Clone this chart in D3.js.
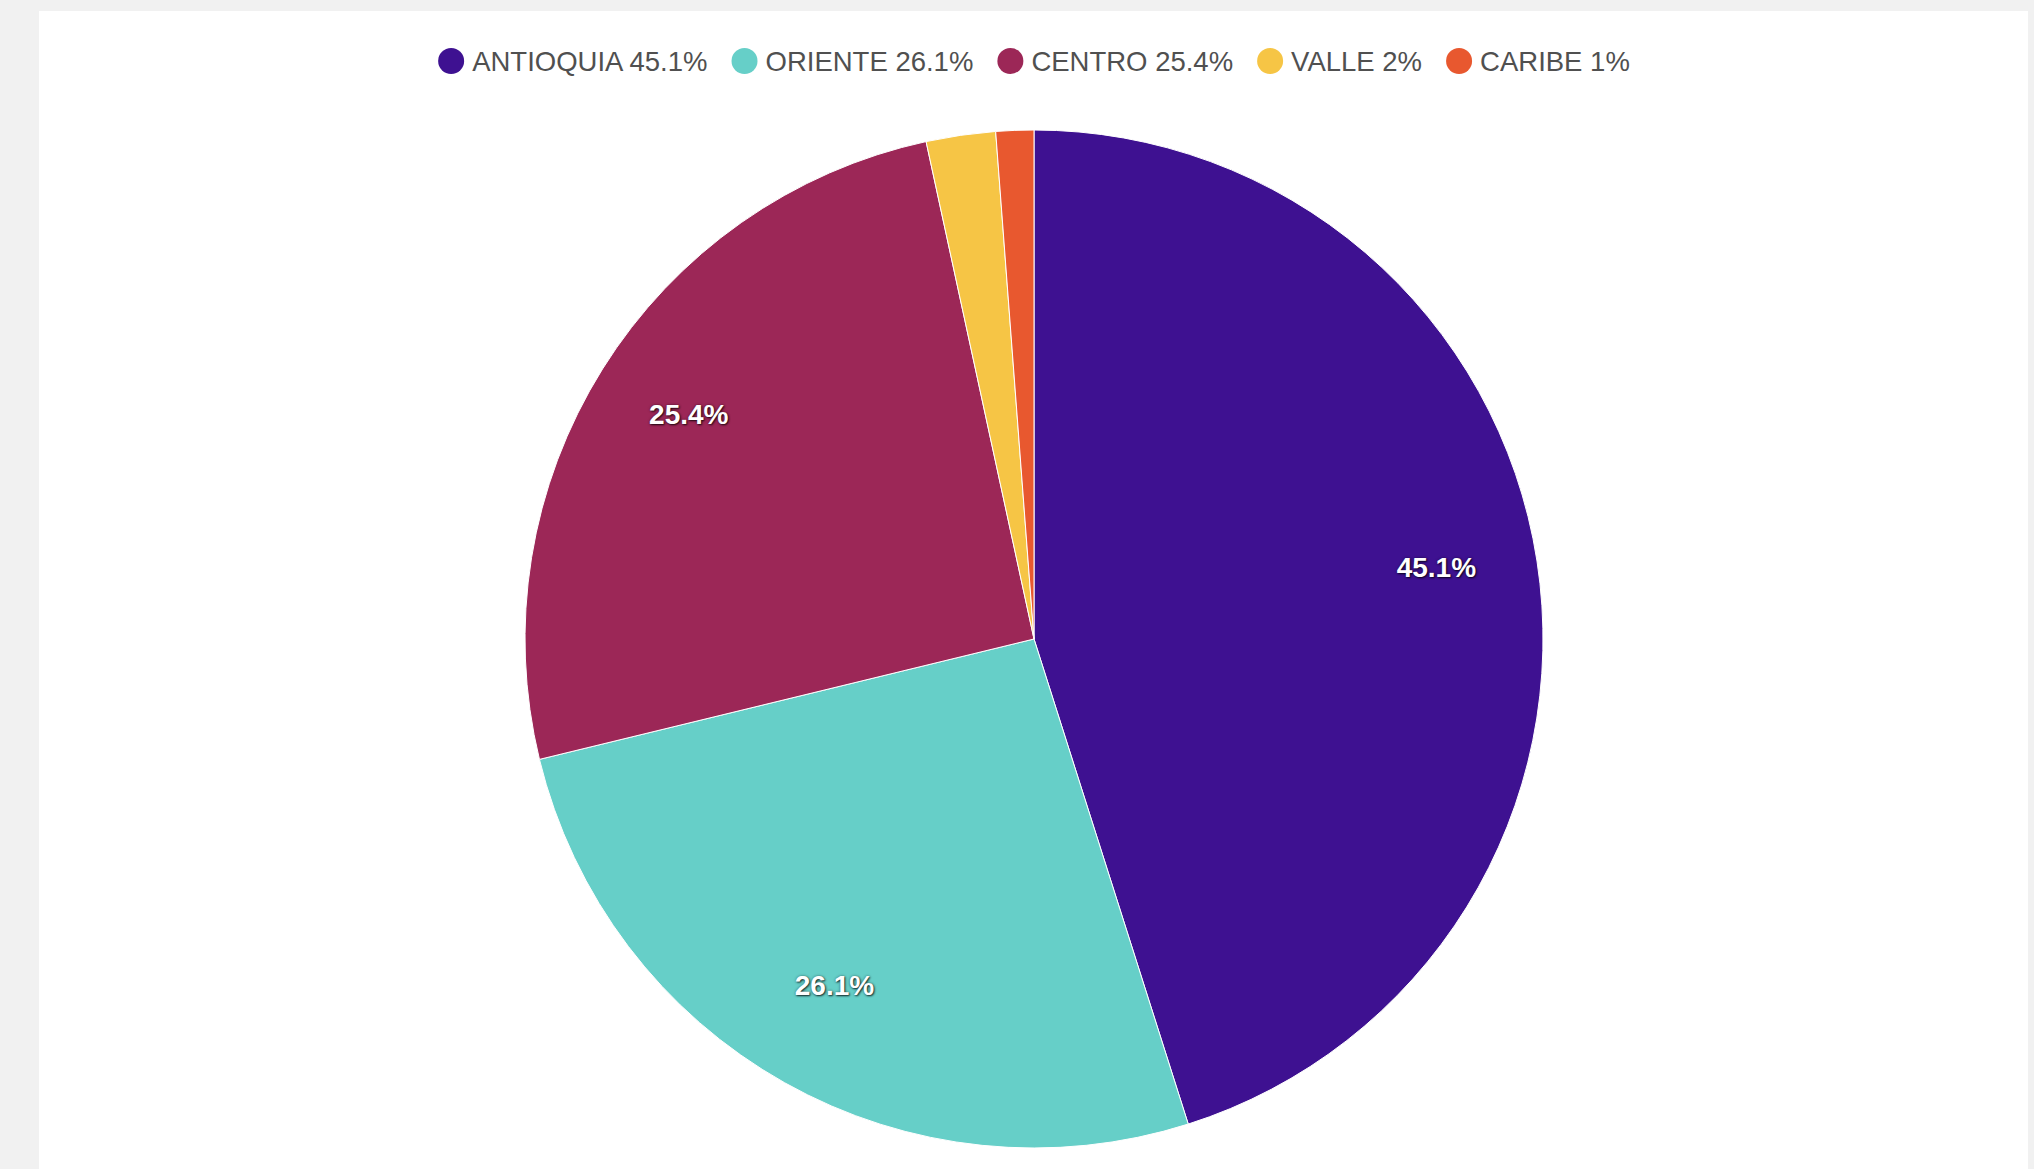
<!DOCTYPE html>
<html>
<head>
<meta charset="utf-8">
<script src="https://cdn.jsdelivr.net/npm/d3@7"></script>
<style>
  html, body { margin: 0; padding: 0; background: #f1f1f1; overflow: hidden; }
  #panel { position: absolute; left: 39px; top: 11px; width: 1989px; height: 1180px; background: #fff; }
  .slice-label { font-family: "Liberation Sans", Arial, sans-serif; font-weight: bold; font-size: 28px; fill: #fff;
    text-shadow: 1px 1px 2px rgba(0,0,0,0.75), 0 0 3px rgba(0,0,0,0.4); }
  .legend-text { font-family: "Liberation Sans", Arial, sans-serif; font-size: 27.5px; fill: #505050; }
</style>
</head>
<body>
<div id="panel"></div>
<script>
// DATA
const regions = ["ANTIOQUIA", "ORIENTE", "CENTRO", "VALLE", "CARIBE"];
const shares = [45.1, 26.1, 25.4, 2.2, 1.2];
const shownPct = ["45.1%", "26.1%", "25.4%", "2%", "1%"];
const colors = ["#3e1191", "#66cfc8", "#9c2757", "#f6c545", "#e8582f"];

const width = 2034, height = 1169;
const cx = 1034, cy = 639, radius = 509;

const data = regions.map((r, i) => ({ region: r, value: shares[i], pct: shownPct[i], color: colors[i] }));

const svg = d3.select("body").append("svg")
  .attr("width", width)
  .attr("height", height)
  .style("position", "absolute")
  .style("left", 0)
  .style("top", 0);

// PIE
const pie = d3.pie().sort(null).value(d => d.value);
const arc = d3.arc().innerRadius(0).outerRadius(radius);
const labelArc = d3.arc().innerRadius(radius * 0.8).outerRadius(radius * 0.8);

const g = svg.append("g").attr("transform", `translate(${cx},${cy})`);

const arcs = pie(data);

g.selectAll("path")
  .data(arcs)
  .join("path")
  .attr("d", arc)
  .attr("fill", d => d.data.color)
  .attr("stroke", "#fff")
  .attr("stroke-width", 1);

// only the big slices get a label inside
g.selectAll("text")
  .data(arcs.filter(d => d.data.value > 5))
  .join("text")
  .attr("class", "slice-label")
  .attr("transform", d => `translate(${labelArc.centroid(d)})`)
  .attr("text-anchor", "middle")
  .attr("dy", "0.02em")
  .text(d => d.data.pct);

// LEGEND
const legend = svg.append("g");
const r = 13, gapIcon = 8, gapItem = 24;
let x = 0;
data.forEach(d => {
  const item = legend.append("g").attr("transform", `translate(${x},0)`);
  item.append("circle").attr("cx", r).attr("cy", 0).attr("r", r).attr("fill", d.color);
  const t = item.append("text")
    .attr("class", "legend-text")
    .attr("x", 2 * r + gapIcon)
    .attr("dy", "0.35em")
    .text(`${d.region} ${d.pct}`);
  x += 2 * r + gapIcon + t.node().getComputedTextLength() + gapItem;
});
x -= gapItem;
legend.attr("transform", `translate(${cx - x / 2},61)`);
</script>
</body>
</html>
